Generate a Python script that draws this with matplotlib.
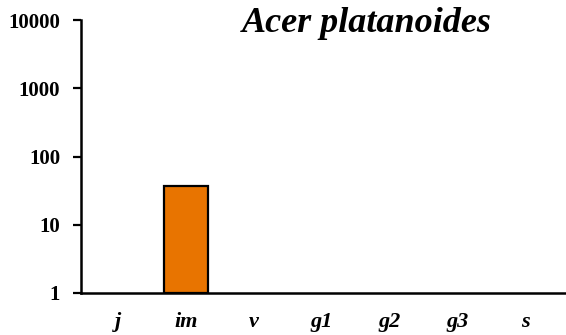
import matplotlib.pyplot as plt
import numpy as np

# stages and counts for Acer platanoides
stages = ['j', 'im', 'v', 'g1', 'g2', 'g3', 's']
counts = [0, 36, 0, 0, 0, 0, 0]

plt.rcParams['font.family'] = 'Liberation Serif'
plt.rcParams['font.weight'] = 'bold'

fig = plt.figure(figsize=(5.66, 3.35), dpi=100)
ax = fig.add_axes([81 / 566, 1 - 293 / 335, 485 / 566, 273 / 335])

x = np.arange(len(stages))
vals = [c if c > 0 else np.nan for c in counts]
ax.bar(x, vals, width=0.65, bottom=1, color='#E87400', edgecolor='black', linewidth=1.6)

ax.set_yscale('log')
ax.set_ylim(1, 10000)
ax.set_xlim(-0.54, 6.59)
ax.set_yticks([1, 10, 100, 1000, 10000])
ax.set_yticklabels(['1', '10', '100', '1000', '10000'], fontsize=15, fontweight='bold')
ax.minorticks_off()
ax.set_xticks(x)
ax.set_xticklabels(stages, fontsize=16, fontweight='bold', style='italic')
ax.tick_params(axis='x', length=0, pad=14)
ax.tick_params(axis='y', length=6, width=1.6, direction='out', pad=9)

for side in ['top', 'right']:
    ax.spines[side].set_visible(False)
for side in ['left', 'bottom']:
    ax.spines[side].set_linewidth(1.8)

fig.text(367 / 566, 1 - 24 / 335, 'Acer platanoides', ha='center', va='center',
         fontsize=26, fontweight='bold', style='italic')

fig.savefig('out.png', dpi=100)
